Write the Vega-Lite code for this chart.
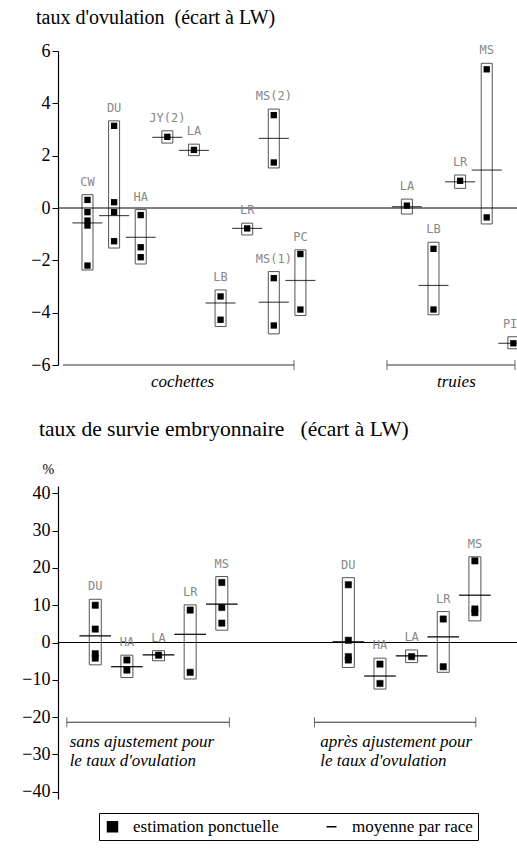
{
 "$schema": "https://vega.github.io/schema/vega-lite/v6.json",
 "padding": {"left": 21, "top": 8, "right": 0, "bottom": 0},
 "background": "white",
 "bounds": "flush",
 "spacing": 121,
 "config": {
  "view": {"stroke": null},
  "axis": {"grid": false, "domainColor": "black", "tickColor": "black", "labelFont": "Liberation Serif, Times New Roman, serif", "labelFontSize": 18, "labelColor": "black", "tickSize": 6, "labelPadding": 2, "domainWidth": 1.2, "labelOverlap": false},
  "axisY": {"labelOverlap": false},
  "title": {"font": "Liberation Serif, Times New Roman, serif", "fontSize": 20, "fontWeight": "normal", "anchor": "start", "color": "black", "frame": "group"},
  "legend": {"labelFont": "Liberation Serif, Times New Roman, serif"}
 },
 "resolve": {"scale": {"shape": "independent"}, "legend": {"shape": "independent"}},
 "datasets": {
  "ov_groups": [
   {"pos": 1, "label": "CW", "lo": -2.37, "hi": 0.51, "mean": -0.57},
   {"pos": 2, "label": "DU", "lo": -1.53, "hi": 3.33, "mean": -0.29},
   {"pos": 3, "label": "HA", "lo": -2.14, "hi": -0.06, "mean": -1.12},
   {"pos": 4, "label": "JY(2)", "lo": 2.48, "hi": 2.95, "mean": 2.7},
   {"pos": 5, "label": "LA", "lo": 2.0, "hi": 2.44, "mean": 2.2},
   {"pos": 6, "label": "LB", "lo": -4.53, "hi": -3.13, "mean": -3.63},
   {"pos": 7, "label": "LR", "lo": -1.03, "hi": -0.58, "mean": -0.78},
   {"pos": 8, "label": "MS(2)", "lo": 1.53, "hi": 3.78, "mean": 2.66},
   {"pos": 8, "label": "MS(1)", "lo": -4.81, "hi": -2.43, "mean": -3.6},
   {"pos": 9, "label": "PC", "lo": -4.11, "hi": -1.6, "mean": -2.77},
   {"pos": 13, "label": "LA", "lo": -0.23, "hi": 0.34, "mean": 0.05},
   {"pos": 14, "label": "LB", "lo": -4.08, "hi": -1.31, "mean": -2.96},
   {"pos": 15, "label": "LR", "lo": 0.75, "hi": 1.26, "mean": 1.0},
   {"pos": 16, "label": "MS", "lo": -0.61, "hi": 5.53, "mean": 1.45},
   {"pos": 17, "label": "PI", "lo": -5.38, "hi": -4.92, "mean": -5.17}
  ],
  "ov_points": [
   {"pos": 1, "v": 0.31}, {"pos": 1, "v": -0.16}, {"pos": 1, "v": -0.48}, {"pos": 1, "v": -0.67}, {"pos": 1, "v": -2.2},
   {"pos": 2, "v": 3.14}, {"pos": 2, "v": 0.22}, {"pos": 2, "v": -0.16}, {"pos": 2, "v": -1.27},
   {"pos": 3, "v": -0.27}, {"pos": 3, "v": -1.5}, {"pos": 3, "v": -1.88},
   {"pos": 4, "v": 2.72},
   {"pos": 5, "v": 2.22},
   {"pos": 6, "v": -3.38}, {"pos": 6, "v": -4.27},
   {"pos": 7, "v": -0.78},
   {"pos": 8, "v": 3.55}, {"pos": 8, "v": 1.74}, {"pos": 8, "v": -2.68}, {"pos": 8, "v": -4.49},
   {"pos": 9, "v": -1.76}, {"pos": 9, "v": -3.88},
   {"pos": 13, "v": 0.09},
   {"pos": 14, "v": -1.56}, {"pos": 14, "v": -3.88},
   {"pos": 15, "v": 1.04},
   {"pos": 16, "v": 5.3}, {"pos": 16, "v": -0.36},
   {"pos": 17, "v": -5.17}
  ],
  "ov_brackets": [
   {"a": 0.08, "b": 8.76, "lvl": -6, "name": "cochettes", "mid": 4.57},
   {"a": 12.25, "b": 17.06, "lvl": -6, "name": "truies", "mid": 14.86}
  ],
  "ov_ticks": [
   {"x": 8.76, "lvl": -6}, {"x": 12.25, "lvl": -6}, {"x": 17.06, "lvl": -6}
  ],
  "sv_groups": [
   {"pos": 1, "label": "DU", "lo": -6.0, "hi": 11.6, "mean": 1.8},
   {"pos": 2, "label": "HA", "lo": -9.4, "hi": -3.4, "mean": -6.5},
   {"pos": 3, "label": "LA", "lo": -4.9, "hi": -2.2, "mean": -3.3},
   {"pos": 4, "label": "LR", "lo": -9.8, "hi": 10.1, "mean": 2.2},
   {"pos": 5, "label": "MS", "lo": 3.3, "hi": 17.7, "mean": 10.3},
   {"pos": 9, "label": "DU", "lo": -6.7, "hi": 17.4, "mean": 0.2},
   {"pos": 10, "label": "HA", "lo": -12.5, "hi": -4.2, "mean": -9.0},
   {"pos": 11, "label": "LA", "lo": -5.4, "hi": -2.0, "mean": -3.6},
   {"pos": 12, "label": "LR", "lo": -8.0, "hi": 8.3, "mean": 1.5},
   {"pos": 13, "label": "MS", "lo": 5.8, "hi": 23.0, "mean": 12.7}
  ],
  "sv_points": [
   {"pos": 1, "v": 10.0}, {"pos": 1, "v": 3.6}, {"pos": 1, "v": -3.0}, {"pos": 1, "v": -4.2},
   {"pos": 2, "v": -4.7}, {"pos": 2, "v": -7.4},
   {"pos": 3, "v": -3.4},
   {"pos": 4, "v": 8.7}, {"pos": 4, "v": -8.0},
   {"pos": 5, "v": 16.1}, {"pos": 5, "v": 9.4}, {"pos": 5, "v": 5.2},
   {"pos": 9, "v": 15.5}, {"pos": 9, "v": 0.6}, {"pos": 9, "v": -3.8}, {"pos": 9, "v": -4.7},
   {"pos": 10, "v": -5.8}, {"pos": 10, "v": -11.0},
   {"pos": 11, "v": -3.8},
   {"pos": 12, "v": 6.3}, {"pos": 12, "v": -6.5},
   {"pos": 13, "v": 21.9}, {"pos": 13, "v": 9.0}, {"pos": 13, "v": 8.0}
  ],
  "sv_brackets": [
   {"a": 0.1, "b": 5.24, "lvl": -21.4, "tx": 0.19, "name": "sans ajustement pour\nle taux d'ovulation"},
   {"a": 7.93, "b": 13.03, "lvl": -21.4, "tx": 8.11, "name": "après ajustement pour\nle taux d'ovulation"}
  ],
  "sv_ticks": [
   {"x": 0.1, "lvl": -21.4}, {"x": 5.24, "lvl": -21.4}, {"x": 7.93, "lvl": -21.4}, {"x": 13.03, "lvl": -21.4}
  ]
 },
 "vconcat": [
  {
   "width": 463,
   "height": 314,
   "title": {"text": "taux d'ovulation \u00a0(écart à LW)", "dx": -22, "offset": 14, "frame": "group"},
   "layer": [
    {
     "data": {"name": "ov_groups"},
     "mark": {"type": "bar", "size": 11, "fill": "white", "fillOpacity": 0, "stroke": "#555", "strokeWidth": 1},
     "encoding": {
      "x": {"field": "pos", "type": "quantitative", "scale": {"domain": [0.08, 17.1], "nice": false, "zero": false}, "axis": null},
      "y": {"field": "hi", "type": "quantitative", "scale": {"domain": [-6, 6], "nice": false}, "axis": {"title": null, "labelOverlap": false, "values": [-6, -5, -4, -3, -2, -1, 0, 1, 2, 3, 4, 5, 6], "labelExpr": "datum.value % 2 == 0 ? datum.label : ''"}},
      "y2": {"field": "lo"}
     }
    },
    {
     "data": {"values": [{}]},
     "mark": {"type": "rule", "color": "black", "strokeWidth": 1},
     "encoding": {"y": {"datum": 0, "type": "quantitative"}}
    },
    {
     "data": {"name": "ov_brackets"},
     "mark": {"type": "rule", "color": "#333", "strokeWidth": 1},
     "encoding": {
      "x": {"field": "a", "type": "quantitative"},
      "x2": {"field": "b"},
      "y": {"field": "lvl", "type": "quantitative"}
     }
    },
    {
     "data": {"name": "ov_ticks"},
     "mark": {"type": "point", "shape": "stroke", "angle": 90, "size": 100, "stroke": "#333", "strokeWidth": 1},
     "encoding": {
      "x": {"field": "x", "type": "quantitative"},
      "y": {"field": "lvl", "type": "quantitative"}
     }
    },
    {
     "data": {"name": "ov_brackets"},
     "mark": {"type": "text", "font": "Liberation Serif, Times New Roman, serif", "fontStyle": "italic", "fontSize": 17, "baseline": "middle", "dy": 17, "color": "black"},
     "encoding": {
      "x": {"field": "mid", "type": "quantitative"},
      "y": {"field": "lvl", "type": "quantitative"},
      "text": {"field": "name"}
     }
    },
    {
     "data": {"name": "ov_groups"},
     "mark": {"type": "point", "shape": "stroke", "size": 900, "stroke": "black", "strokeWidth": 1.2},
     "encoding": {
      "x": {"field": "pos", "type": "quantitative"},
      "y": {"field": "mean", "type": "quantitative"}
     }
    },
    {
     "data": {"name": "ov_points"},
     "mark": {"type": "point", "shape": "square", "size": 40, "filled": true, "color": "black", "opacity": 1},
     "encoding": {
      "x": {"field": "pos", "type": "quantitative"},
      "y": {"field": "v", "type": "quantitative"}
     }
    },
    {
     "data": {"name": "ov_groups"},
     "transform": [{"filter": "datum.pos < 17"}],
     "mark": {"type": "text", "font": "DejaVu Sans Mono", "fontSize": 12, "color": "#888", "baseline": "bottom", "dy": -6},
     "encoding": {
      "x": {"field": "pos", "type": "quantitative"},
      "y": {"field": "hi", "type": "quantitative"},
      "text": {"field": "label"}
     }
    },
    {
     "data": {"name": "ov_groups"},
     "transform": [{"filter": "datum.pos >= 17"}],
     "mark": {"type": "text", "font": "DejaVu Sans Mono", "fontSize": 12, "color": "#888", "baseline": "bottom", "align": "right", "dx": 4, "dy": -6},
     "encoding": {
      "x": {"field": "pos", "type": "quantitative"},
      "y": {"field": "hi", "type": "quantitative"},
      "text": {"field": "label"}
     }
    }
   ]
  },
  {
   "width": 463,
   "height": 313,
   "title": {"text": "taux de survie embryonnaire \u00a0\u00a0(écart à LW)", "dx": -19, "offset": 22, "fontSize": 21.5, "frame": "group"},
   "layer": [
    {
     "data": {"name": "sv_groups"},
     "mark": {"type": "bar", "size": 12, "fill": "white", "fillOpacity": 0, "stroke": "#555", "strokeWidth": 1},
     "encoding": {
      "x": {"field": "pos", "type": "quantitative", "scale": {"domain": [-0.02, 14.3], "nice": false, "zero": false}, "axis": null},
      "y": {"field": "hi", "type": "quantitative", "scale": {"domain": [-42, 42], "nice": false}, "axis": {"title": "%", "labelOverlap": false, "labelBound": false, "tickCount": 9, "titleAngle": 0, "titleFont": "Liberation Serif, Times New Roman, serif", "titleFontSize": 14, "titleFontWeight": "normal", "titleX": -16, "titleY": -10, "titleAlign": "left", "titleBaseline": "bottom"}},
      "y2": {"field": "lo"}
     }
    },
    {
     "data": {"values": [{}]},
     "mark": {"type": "rule", "color": "black", "strokeWidth": 1},
     "encoding": {"y": {"datum": 0, "type": "quantitative"}}
    },
    {
     "data": {"name": "sv_brackets"},
     "mark": {"type": "rule", "color": "#333", "strokeWidth": 1},
     "encoding": {
      "x": {"field": "a", "type": "quantitative"},
      "x2": {"field": "b"},
      "y": {"field": "lvl", "type": "quantitative"}
     }
    },
    {
     "data": {"name": "sv_ticks"},
     "mark": {"type": "point", "shape": "stroke", "angle": 90, "size": 100, "stroke": "#333", "strokeWidth": 1},
     "encoding": {
      "x": {"field": "x", "type": "quantitative"},
      "y": {"field": "lvl", "type": "quantitative"}
     }
    },
    {
     "data": {"name": "sv_brackets"},
     "mark": {"type": "text", "font": "Liberation Serif, Times New Roman, serif", "fontStyle": "italic", "fontSize": 17, "baseline": "top", "align": "left", "dy": 12, "lineBreak": "\n", "lineHeight": 19, "color": "black"},
     "encoding": {
      "x": {"field": "tx", "type": "quantitative"},
      "y": {"field": "lvl", "type": "quantitative"},
      "text": {"field": "name"}
     }
    },
    {
     "data": {"name": "sv_groups"},
     "mark": {"type": "point", "size": 1000, "stroke": "black", "fill": "black", "strokeWidth": 1.2, "opacity": 1},
     "encoding": {
      "x": {"field": "pos", "type": "quantitative"},
      "y": {"field": "mean", "type": "quantitative"},
      "shape": {"datum": "moyenne par race", "type": "nominal"}
     }
    },
    {
     "data": {"name": "sv_points"},
     "mark": {"type": "point", "size": 40, "filled": true, "fill": "black", "stroke": "black", "strokeWidth": 0.5, "opacity": 1},
     "encoding": {
      "x": {"field": "pos", "type": "quantitative"},
      "y": {"field": "v", "type": "quantitative"},
      "shape": {"datum": "estimation ponctuelle", "type": "nominal", "scale": {"domain": ["estimation ponctuelle", "moyenne par race"], "range": ["square", "stroke"]}, "legend": {"orient": "none", "legendX": 41, "legendY": 327, "direction": "horizontal", "title": null, "strokeColor": "black", "padding": 5, "labelFont": "Liberation Serif, Times New Roman, serif", "labelFontSize": 17, "labelColor": "black", "symbolSize": 100, "symbolFillColor": "black", "symbolStrokeColor": "black", "symbolStrokeWidth": 1.5, "columnPadding": 44, "labelOffset": 12}}
     }
    },
    {
     "data": {"name": "sv_groups"},
     "mark": {"type": "text", "font": "DejaVu Sans Mono", "fontSize": 12, "color": "#888", "baseline": "bottom", "dy": -6},
     "encoding": {
      "x": {"field": "pos", "type": "quantitative"},
      "y": {"field": "hi", "type": "quantitative"},
      "text": {"field": "label"}
     }
    }
   ]
  }
 ]
}
